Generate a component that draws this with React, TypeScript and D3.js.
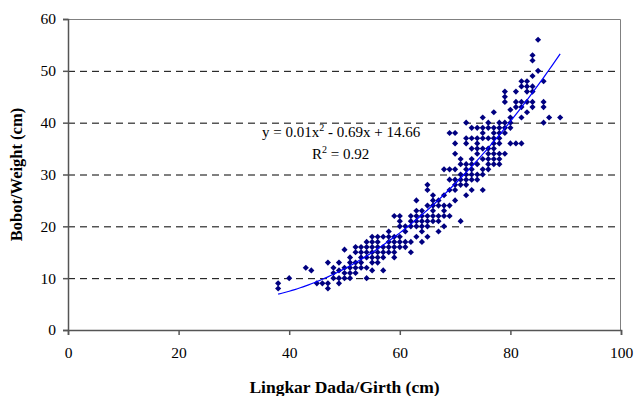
import React, { useEffect, useRef } from "react";
import * as d3 from "d3";

// girth columns (cm) and the weights read at each girth
const girthValues = [
  38, 40, 43, 44, 45, 46, 47, 48, 49, 50, 51, 52, 53, 54, 55, 56, 57, 58, 59, 60,
  61, 62, 63, 64, 65, 66, 67, 68, 69, 70, 71, 72, 73, 74, 75, 76, 77, 78, 79, 80,
  81, 82, 83, 84, 85, 86, 87, 89,
];
const weightByGirth = [
  [8, 9], [10], [12], [11.5], [9], [9], [13, 9, 8], [12, 11, 10], [13, 11.5, 10, 9],
  [15.5, 12, 11, 10], [14, 13, 12, 11, 10], [16, 15, 13, 12, 11], [16, 15, 14, 13, 12],
  [17, 16, 15, 14, 12, 10], [18, 17, 16, 15, 14, 13, 11.5], [18, 17, 16, 15, 14, 13],
  [18, 16, 15, 14, 11.5], [19, 18, 17, 16, 15], [22, 18, 17, 16, 15, 14],
  [22, 21, 20, 18, 17, 16], [20, 19, 17, 16], [22, 21, 20, 17, 15],
  [25, 23, 22, 21, 20, 18], [23, 22, 21, 20, 19, 17], [28, 27, 24, 22, 21, 20, 18],
  [26, 25, 24, 23, 22, 21], [25, 24, 22, 21, 19], [31, 26, 24, 23, 22, 20],
  [38, 31, 29, 27, 24, 22], [38, 36, 34, 31, 29, 28, 27, 25], [33, 32, 30, 29, 28, 21],
  [40, 37, 36, 32, 31, 30, 29, 28, 26], [39, 37, 35, 33, 32, 31, 30, 29, 27],
  [39, 37, 36, 35, 34, 32, 30, 29], [41, 39, 38, 37, 35, 33, 31, 30, 27],
  [40, 39, 37, 35, 34, 33, 32, 31], [42, 39, 38, 37, 36, 35, 34, 33, 32],
  [40, 39, 38, 37, 36, 34, 33, 32], [46, 45, 44, 40, 39, 38, 34], [42.5, 41, 40, 39, 36],
  [46, 44, 43, 36], [48, 47, 44, 43, 41, 36], [48, 47, 46, 44, 42],
  [53, 52, 49, 47, 46, 44, 43], [56, 50], [48, 44, 43, 40], [41], [41],
];

const xTicks = [0, 20, 40, 60, 80, 100];
const yTicks = [0, 10, 20, 30, 40, 50, 60];
const xTitle = "Lingkar Dada/Girth (cm)";
const yTitle = "Bobot/Weight (cm)";

// least squares fit y = a + b x + c x^2
function quadFit(pts: [number, number][]) {
  let s = [0, 0, 0, 0, 0];
  let t = [0, 0, 0];
  pts.forEach(([x, y]) => {
    for (let k = 0; k < 5; k++) s[k] += x ** k;
    for (let k = 0; k < 3; k++) t[k] += y * x ** k;
  });
  const m = [
    [s[0], s[1], s[2], t[0]],
    [s[1], s[2], s[3], t[1]],
    [s[2], s[3], s[4], t[2]],
  ];
  for (let i = 0; i < 3; i++) {
    for (let j = i + 1; j < 3; j++) {
      const f = m[j][i] / m[i][i];
      for (let k = i; k < 4; k++) m[j][k] -= f * m[i][k];
    }
  }
  const c = [0, 0, 0];
  for (let i = 2; i >= 0; i--) {
    let v = m[i][3];
    for (let k = i + 1; k < 3; k++) v -= m[i][k] * c[k];
    c[i] = v / m[i][i];
  }
  return c;
}

const Chart = () => {
  const ref = useRef<HTMLDivElement>(null);

  useEffect(() => {
    const width = 634;
    const height = 396;
    const margin = { top: 19, right: 13, bottom: 66, left: 68 };
    const font = "'Liberation Serif', 'Times New Roman', serif";

    const svg = d3
      .select(ref.current)
      .html("")
      .append("svg")
      .attr("width", width)
      .attr("height", height)
      .style("position", "absolute")
      .style("left", 0)
      .style("top", 0)
      .style("background", "#fff");

    const x = d3.scaleLinear().domain([0, 100]).range([margin.left, width - margin.right]);
    const y = d3.scaleLinear().domain([0, 60]).range([height - margin.bottom, margin.top]);

    const points: [number, number][] = [];
    girthValues.forEach((g, i) => weightByGirth[i].forEach((w) => points.push([g, w])));

    // dashed gridlines
    svg
      .append("g")
      .selectAll("line")
      .data(yTicks.filter((d) => d > 0 && d < 60))
      .join("line")
      .attr("x1", x(0))
      .attr("x2", x(100))
      .attr("y1", (d) => y(d) + 0.5)
      .attr("y2", (d) => y(d) + 0.5)
      .attr("stroke", "#000")
      .attr("stroke-dasharray", "7,5");

    // frame (top + right)
    svg
      .append("path")
      .attr("d", `M${x(0)},${y(60) + 0.5}H${x(100) - 0.5}V${y(0)}`)
      .attr("fill", "none")
      .attr("stroke", "#808080");

    const xAxis = svg
      .append("g")
      .attr("transform", `translate(0,${y(0)})`)
      .call(d3.axisBottom(x).tickValues(xTicks).tickSize(5).tickPadding(12));
    const yAxis = svg
      .append("g")
      .attr("transform", `translate(${x(0)},0)`)
      .call(d3.axisLeft(y).tickValues(yTicks).tickSize(5).tickPadding(7));

    [xAxis, yAxis].forEach((a) => {
      a.selectAll("path, line").attr("stroke", "#555").attr("stroke-width", 1.5);
      a.selectAll("text")
        .attr("font-family", font)
        .attr("font-size", 15.5)
        .attr("fill", "#000");
    });

    // points
    const diamond = d3.symbol().type((d3 as any).symbolDiamond2 ?? d3.symbolDiamond).size(24);
    svg
      .append("g")
      .selectAll("path")
      .data(points)
      .join("path")
      .attr("transform", (d) => `translate(${x(d[0])},${y(d[1])})`)
      .attr("d", diamond)
      .attr("fill", "#000080");

    // polynomial trendline
    const [a, b, c] = quadFit(points);
    const xs = d3.range(d3.min(girthValues)!, d3.max(girthValues)! + 0.01, 0.5);
    svg
      .append("path")
      .datum(xs)
      .attr(
        "d",
        d3
          .line<number>()
          .x((d) => x(d))
          .y((d) => y(a + b * d + c * d * d))
      )
      .attr("fill", "none")
      .attr("stroke", "#0000ff")
      .attr("stroke-width", 1.2);

    // equation
    const eq = svg
      .append("text")
      .attr("x", 262)
      .attr("y", 137)
      .attr("font-family", font)
      .attr("font-size", 15);
    eq.append("tspan").text("y = 0.01x");
    eq.append("tspan").attr("dy", -6).attr("font-size", 10).text("2");
    eq.append("tspan").attr("dy", 6).text(" - 0.69x + 14.66");

    const r2 = svg
      .append("text")
      .attr("x", 312)
      .attr("y", 159)
      .attr("font-family", font)
      .attr("font-size", 15);
    r2.append("tspan").text("R");
    r2.append("tspan").attr("dy", -6).attr("font-size", 10).text("2");
    r2.append("tspan").attr("dy", 6).text(" = 0.92");

    // axis titles
    svg
      .append("text")
      .attr("x", (x(0) + x(100)) / 2)
      .attr("y", 393)
      .attr("text-anchor", "middle")
      .attr("font-family", font)
      .attr("font-size", 17.5)
      .attr("font-weight", "bold")
      .text(xTitle);

    svg
      .append("text")
      .attr("transform", `translate(22,${(y(0) + y(60)) / 2}) rotate(-90)`)
      .attr("text-anchor", "middle")
      .attr("font-family", font)
      .attr("font-size", 16.5)
      .attr("font-weight", "bold")
      .text(yTitle);
  }, []);

  return <div ref={ref} />;
};

export default function App() {
  return <Chart />;
}
